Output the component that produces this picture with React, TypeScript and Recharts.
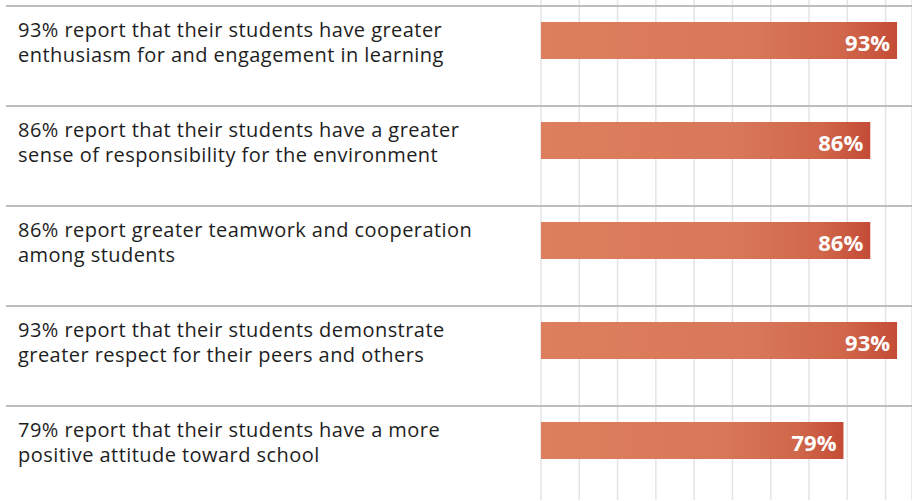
import { BarChart, Bar, XAxis, YAxis, CartesianGrid, LabelList } from 'recharts';

const firstLines = [
  '93% report that their students have greater',
  '86% report that their students have a greater',
  '86% report greater teamwork and cooperation',
  '93% report that their students demonstrate',
  '79% report that their students have a more',
];

const secondLines = [
  'enthusiasm for and engagement in learning',
  'sense of responsibility for the environment',
  'among students',
  'greater respect for their peers and others',
  'positive attitude toward school',
];

const percentages = [93, 86, 86, 93, 79];

const gridTicks = [0, 10, 20, 30, 40, 50, 60, 70, 80, 90];

const data = firstLines.map((line, i) => ({
  name: line,
  line2: secondLines[i],
  value: percentages[i],
}));

const FONT = '"Open Sans", "Noto Sans", sans-serif';
const BAR_SHIFT = 10; // bars sit in the upper part of each row
const HALF_ROW = 50;

function StatementTick({ y, payload }: any) {
  const i = firstLines.indexOf(payload.value);
  const top = y - HALF_ROW;
  return (
    <g>
      <line x1={6} x2={912} y1={top + 6} y2={top + 6} stroke="#bdbdbd" strokeWidth={2} />
      <text
        x={18}
        y={top + 37}
        fill="#1e1e1e"
        fontSize={20}
        letterSpacing={0.45}
        fontFamily={FONT}
      >
        <tspan x={18}>{payload.value}</tspan>
        <tspan x={18} dy={24.5}>
          {secondLines[i]}
        </tspan>
      </text>
    </g>
  );
}

function ShiftedBar({ x, y, width, height }: any) {
  return <rect x={x} y={y - BAR_SHIFT} width={width} height={height} fill="url(#barFill)" />;
}

function PctLabel({ x, y, width, height, value }: any) {
  return (
    <text
      x={x + width - 7}
      y={y + height / 2 - BAR_SHIFT + 1}
      textAnchor="end"
      dominantBaseline="central"
      fill="#ffffff"
      fontSize={22}
      fontWeight={700}
      fontFamily={FONT}
    >
      {value}%
    </text>
  );
}

export default function App() {
  return (
    <div
      style={{
        position: 'absolute',
        left: 0,
        top: 0,
        width: 912,
        height: 501,
        overflow: 'hidden',
        background: '#fff',
      }}
    >
      <BarChart
        width={912}
        height={501}
        data={data}
        layout="vertical"
        margin={{ top: 0, right: 0, left: 0, bottom: 1 }}
      >
        <defs>
          <linearGradient id="barFill" x1="0" y1="0" x2="1" y2="0">
            <stop offset="0%" stopColor="#dd7f5d" />
            <stop offset="60%" stopColor="#d8775a" />
            <stop offset="85%" stopColor="#d0664a" />
            <stop offset="100%" stopColor="#c44c37" />
          </linearGradient>
        </defs>
        <CartesianGrid horizontal={false} stroke="#e4e4e4" strokeWidth={1.5} />
        <XAxis type="number" domain={[0, 96.9]} ticks={gridTicks} hide />
        <YAxis
          type="category"
          dataKey="name"
          width={541}
          axisLine={false}
          tickLine={false}
          tick={<StatementTick />}
        />
        <Bar dataKey="value" barSize={37} shape={<ShiftedBar />} isAnimationActive={false}>
          <LabelList dataKey="value" content={<PctLabel />} />
        </Bar>
      </BarChart>
    </div>
  );
}
